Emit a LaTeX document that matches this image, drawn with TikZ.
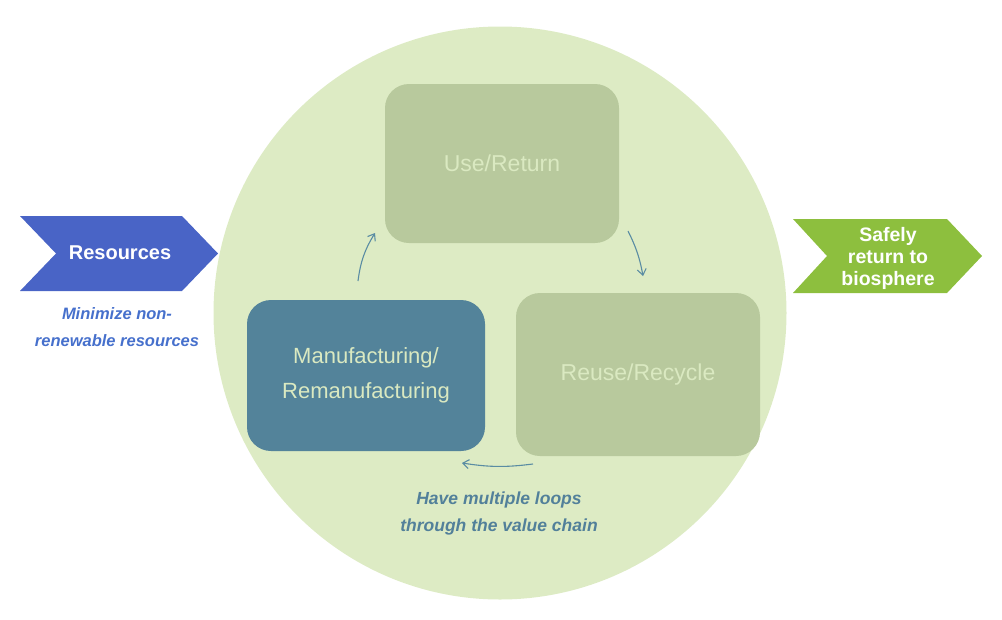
\documentclass[tikz,border=0pt]{standalone}
\usepackage{fontspec}
\setmainfont{Liberation Sans}
\usetikzlibrary{arrows.meta,calc}
\definecolor{circfill}{HTML}{DDEBC4}
\definecolor{boxlight}{HTML}{B8C99D}
\definecolor{boxteal}{HTML}{53839A}
\definecolor{boxtext}{HTML}{DAE9C1}
\definecolor{chevblue}{HTML}{4964C6}
\definecolor{txtblue}{HTML}{4670CC}
\definecolor{chevgreen}{HTML}{8DBF3E}
\definecolor{txtteal}{HTML}{52809A}
\definecolor{arrteal}{HTML}{5A8CA3}
\tikzset{
  stagebox/.style={rounded corners=24pt, inner sep=0pt, align=center,
    font=\fontsize{23}{35}\selectfont, text=boxtext},
  chevtext/.style={text=white, font=\fontsize{19.5}{22}\selectfont\bfseries, align=center, inner sep=0pt},
  note/.style={font=\fontsize{17.5}{27}\selectfont\bfseries\itshape, align=center, inner sep=0pt},
  loop/.style={draw=arrteal, line width=1.1pt, -{Straight Barb[length=6pt,width=9pt,line width=1.1pt]}}
}
\begin{document}
\begin{tikzpicture}[x=1pt,y=-1pt]
\useasboundingbox (0,0) rectangle (1002,619);
% big circle
\node (circ) [circle, fill=circfill, minimum size=573pt, inner sep=0pt] at (500,313) {};
% stage boxes
\node (use) [stagebox, fill=boxlight, minimum width=234pt, minimum height=159pt] at (502,163.5) {Use/Return};
\node (reuse) [stagebox, fill=boxlight, minimum width=244pt, minimum height=163pt] at (638,374.5) {Reuse/Recycle};
\node (manu) [stagebox, fill=boxteal, minimum width=238pt, minimum height=151pt, font=\fontsize{22}{35}\selectfont] at (366,375.5) {Manufacturing/\\Remanufacturing};
% chevrons
\fill[chevblue] (20,216) -- (182,216) -- (218,253.5) -- (182,291) -- (20,291) -- (56,253.5) -- cycle;
\node (res) [chevtext, font=\fontsize{20}{22}\selectfont\bfseries] at (120,253) {Resources};
\fill[chevgreen] (793,219) -- (947,219) -- (982,256) -- (947,293) -- (793,293) -- (827,256) -- cycle;
\node (safe) [chevtext] at (888,258.5) {Safely\\return to\\biosphere};
% notes
\node (min) [note, text=txtblue, font=\fontsize{16.5}{27}\selectfont\bfseries\itshape] at (117,327) {Minimize non-\\renewable resources};
\node (loops) [note, text=txtteal] at (499,513) {Have multiple loops\\through the value chain};
% loop arrows
\coordinate (a1s) at (358,281);
\coordinate (a1e) at (375,233);
\coordinate (a2s) at (628,231);
\coordinate (a2e) at (643,276);
\coordinate (a3s) at (533,464);
\coordinate (a3e) at (462,463);
\draw[loop] (a1s) to[bend left=12] (a1e);
\draw[loop] (a2s) to[bend left=8] (a2e);
\draw[loop] (a3s) to[bend left=8] (a3e);
\end{tikzpicture}
\end{document}
